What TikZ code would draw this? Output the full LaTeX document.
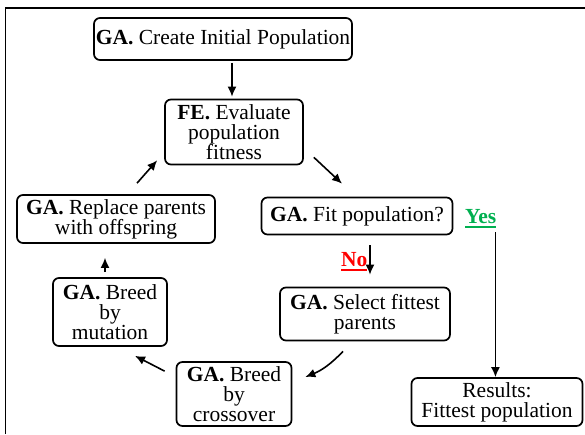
\documentclass[tikz,border=0pt]{standalone}
\usepackage{fontspec}
\setmainfont{Liberation Serif}
\usepackage{tikz}
\usetikzlibrary{calc,arrows,arrows.meta}

\definecolor{yesgreen}{RGB}{0,176,80}
\definecolor{nored}{RGB}{255,0,0}
\newcommand{\markline}[1]{\setbox0\hbox{#1}\rlap{\rule[-5pt]{\wd0}{2pt}}\box0}

\tikzset{
	stage/.style={draw,rounded corners=6pt,line width=1.7pt,align=center,inner sep=1pt,font=\fontsize{21.5}{20}\selectfont},
	flow/.style={-{Latex[length=10pt,width=9pt]},line width=1.6pt},
	answer/.style={anchor=base west,inner sep=0pt,font=\fontsize{21.5}{20}\selectfont\bfseries}
}

\begin{document}
\begin{tikzpicture}[x=1pt,y=-1pt]
	\useasboundingbox (0,0) rectangle (585,434);
	\draw[line width=1.8pt] (5.5,434) -- (5.5,8) -- (585,8);
	% stages of the loop
	\node[stage,minimum width=258pt,minimum height=42pt] (create) at (223,39) {\textbf{GA.} Create Initial Population};
	\node[stage,minimum width=138pt,minimum height=65pt] (fe) at (234,132) {\textbf{FE.} Evaluate\\population\\fitness};
	\node[stage,minimum width=191pt,minimum height=37pt] (fit) at (357,216) {\textbf{GA.} Fit population?};
	\node[stage,minimum width=170pt,minimum height=53pt] (select) at (365,314) {\textbf{GA.} Select fittest\\parents};
	\node[stage,minimum width=115pt,minimum height=64pt] (crossover) at (234,394) {\textbf{GA.} Breed\\by\\crossover};
	\node[stage,minimum width=114pt,minimum height=68pt] (mutation) at (110,312) {\textbf{GA.} Breed\\by\\mutation};
	\node[stage,minimum width=198pt,minimum height=48pt] (replace) at (116,219) {\textbf{GA.} Replace parents\\with offspring};
	\node[stage,minimum width=171pt,minimum height=48pt] (results) at (497,402) {Results:\\Fittest population};
	% answers
	\node[answer,text=nored] (no) at (341,266) {\markline{No}};
	\node[answer,text=yesgreen] (yes) at (465,223) {\markline{Yes}};
	\coordinate (yesend) at ($(yes.south east)+(-1,4)$);
	% arrows
	\draw[flow] ($(create.south)+(9,2)$) -- ($(fe.north)+(-2,-2)$);
	\draw[flow] ($(fe.south east)+(10,-8)$) -- ($(fit.north)+(-15,-13)$);
	\draw[flow] ($(fit.south)+(13,10)$) -- ($(select.north)+(5,-12)$);
	\draw[flow] ($(select.south)+(-22,10)$) to[bend left=12] ($(crossover.east)+(13,-17)$);
	\draw[flow] ($(crossover.north west)+(-11,10)$) -- ($(mutation.south)+(25,9)$);
	\draw[flow] ($(mutation.north)+(-5,-5)$) -- ($(replace.south)+(-11,14)$);
	\draw[flow] ($(replace.north)+(21,-11)$) -- ($(fe.south west)+(-7,-5)$);
	\draw[flow] (yesend) -- (yesend |- results.north);
\end{tikzpicture}
\end{document}
